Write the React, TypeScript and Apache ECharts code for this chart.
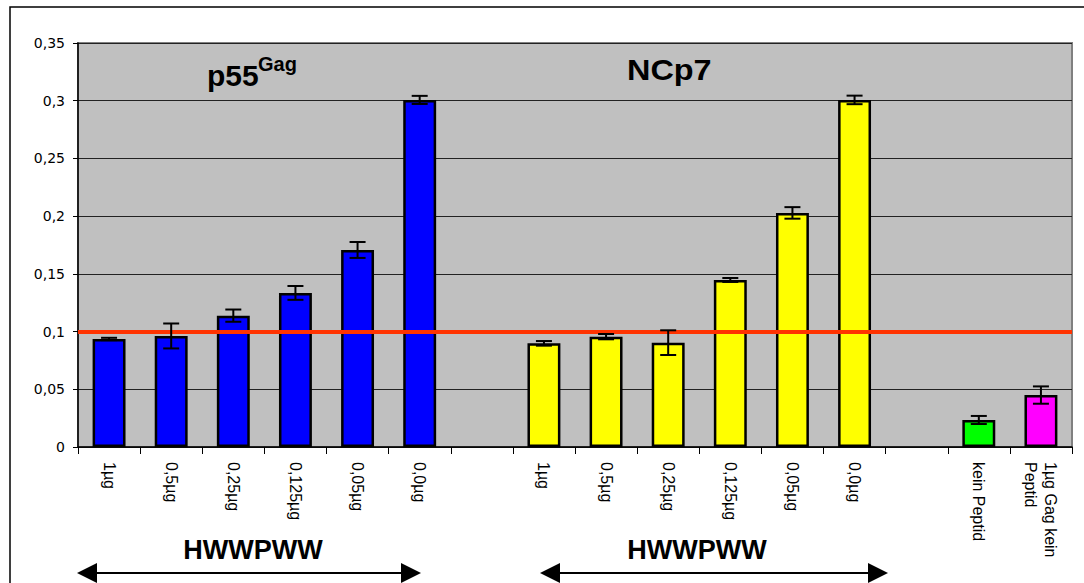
import React, { useEffect, useRef } from "react";
import * as echarts from "echarts";

const categories = [
  "1µg", "0,5µg", "0,25µg", "0,125µg", "0,05µg", "0,0µg", "",
  "1µg", "0,5µg", "0,25µg", "0,125µg", "0,05µg", "0,0µg", "",
  "kein Peptid", "1µg Gag kein\nPeptid",
];
const p55Values = [0.0936, 0.0962, 0.1138, 0.1335, 0.1707, 0.3007];
const p55Errors = [0.001, 0.0108, 0.0053, 0.006, 0.0069, 0.0035];
const ncp7Values = [0.0898, 0.0956, 0.0904, 0.1447, 0.2028, 0.3007];
const ncp7Errors = [0.002, 0.0023, 0.0107, 0.0017, 0.005, 0.0037];
const controlValues = [0.0234, 0.045];
const controlErrors = [0.0035, 0.0075];
const thresholdValue = 0.0988;
const yTicks = { min: 0, max: 0.35, interval: 0.05 };

const BLUE = "#0000ff";
const YELLOW = "#ffff00";
const GREEN = "#00ff00";
const MAGENTA = "#ff00ff";

export default function App() {
  const ref = useRef<HTMLDivElement>(null);
  useEffect(() => {
    document.body.style.margin = "0";
    if (!ref.current) return;
    const chart = echarts.init(ref.current, null, { renderer: "svg" });

    const barData: any[] = [];
    const errData: any[] = [];
    p55Values.forEach((v, i) => {
      barData.push({ value: v, itemStyle: { color: BLUE } });
      errData.push([i, v - p55Errors[i], v + p55Errors[i]]);
    });
    barData.push(null);
    ncp7Values.forEach((v, i) => {
      barData.push({ value: v, itemStyle: { color: YELLOW } });
      errData.push([7 + i, v - ncp7Errors[i], v + ncp7Errors[i]]);
    });
    barData.push(null);
    const ctrlColors = [GREEN, MAGENTA];
    controlValues.forEach((v, i) => {
      barData.push({ value: v, itemStyle: { color: ctrlColors[i] } });
      errData.push([14 + i, v - controlErrors[i], v + controlErrors[i]]);
    });

    const arrow = (x1: number, x2: number, y: number) => [
      { type: "line", shape: { x1: x1 + 18, y1: y, x2: x2 - 18, y2: y }, style: { stroke: "#000", lineWidth: 2 } },
      { type: "polygon", shape: { points: [[x1, y], [x1 + 20, y - 10], [x1 + 20, y + 10]] }, style: { fill: "#000" } },
      { type: "polygon", shape: { points: [[x2, y], [x2 - 20, y - 10], [x2 - 20, y + 10]] }, style: { fill: "#000" } },
    ];

    chart.setOption({
      animation: false,
      grid: {
        left: 78, top: 43, right: 12, bottom: 136,
        show: true, backgroundColor: "#c0c0c0", borderColor: "#808080", borderWidth: 2,
      },
      xAxis: {
        type: "category",
        data: categories,
        axisLine: { lineStyle: { color: "#000", width: 1.5 } },
        axisTick: { show: true, length: 7, lineStyle: { color: "#000" } },
        axisLabel: {
          rotate: -90, interval: 0, margin: 15, color: "#000",
          fontFamily: "Liberation Sans, Arial, sans-serif", fontSize: 16, lineHeight: 20,
        },
      },
      yAxis: {
        type: "value",
        min: yTicks.min, max: yTicks.max, interval: yTicks.interval,
        axisLine: { show: true, lineStyle: { color: "#000", width: 1.5 } },
        axisTick: { show: true, length: 5, lineStyle: { color: "#000" } },
        splitLine: { lineStyle: { color: "#222", width: 1 } },
        axisLabel: {
          margin: 13, color: "#000", fontFamily: "DejaVu Sans, sans-serif", fontSize: 14,
          formatter: (v: number) => String(+v.toFixed(3)).replace(".", ","),
        },
      },
      series: [
        {
          type: "bar",
          data: barData,
          barWidth: "53%",
          itemStyle: { borderColor: "#000", borderWidth: 2.5 },
          markLine: {
            silent: true, symbol: "none", label: { show: false },
            lineStyle: { color: "#ff3300", width: 4, type: "solid" },
            data: [{ yAxis: thresholdValue }],
          },
        },
        {
          type: "custom",
          data: errData,
          z: 10,
          renderItem: (params: any, api: any) => {
            const idx = api.value(0);
            const lo = api.coord([idx, api.value(1)]);
            const hi = api.coord([idx, api.value(2)]);
            const hw = 8;
            const st = { stroke: "#000", lineWidth: 2 };
            return {
              type: "group",
              children: [
                { type: "line", shape: { x1: lo[0], y1: lo[1], x2: hi[0], y2: hi[1] }, style: st },
                { type: "line", shape: { x1: lo[0] - hw, y1: lo[1], x2: lo[0] + hw, y2: lo[1] }, style: st },
                { type: "line", shape: { x1: hi[0] - hw, y1: hi[1], x2: hi[0] + hw, y2: hi[1] }, style: st },
              ],
            };
          },
        },
      ],
      graphic: [
        { type: "rect", silent: true, z: -10, shape: { x: 10, y: 7, width: 1100, height: 600 }, style: { fill: "none", stroke: "#000", lineWidth: 1.5 } },
        { type: "text", x: 207, y: 90, style: { text: "p55", fill: "#000", font: "bold 30px 'Liberation Sans', Arial, sans-serif", textVerticalAlign: "bottom" } },
        { type: "text", x: 258, y: 74, style: { text: "Gag", fill: "#000", font: "bold 20px 'Liberation Sans', Arial, sans-serif", textVerticalAlign: "bottom" } },
        { type: "text", x: 627, y: 85, scaleX: 1.08, style: { text: "NCp7", fill: "#000", font: "bold 30px 'Liberation Sans', Arial, sans-serif", textVerticalAlign: "bottom" } },
        { type: "text", x: 253, y: 550, style: { text: "HWWPWW", fill: "#000", font: "bold 27px 'Liberation Sans', Arial, sans-serif", align: "center", verticalAlign: "middle" } },
        { type: "text", x: 697, y: 550, style: { text: "HWWPWW", fill: "#000", font: "bold 27px 'Liberation Sans', Arial, sans-serif", align: "center", verticalAlign: "middle" } },
        ...arrow(77, 421, 573),
        ...arrow(540, 888, 573),
      ],
    });
    return () => chart.dispose();
  }, []);
  return <div ref={ref} style={{ width: 1084, height: 583 }} />;
}
